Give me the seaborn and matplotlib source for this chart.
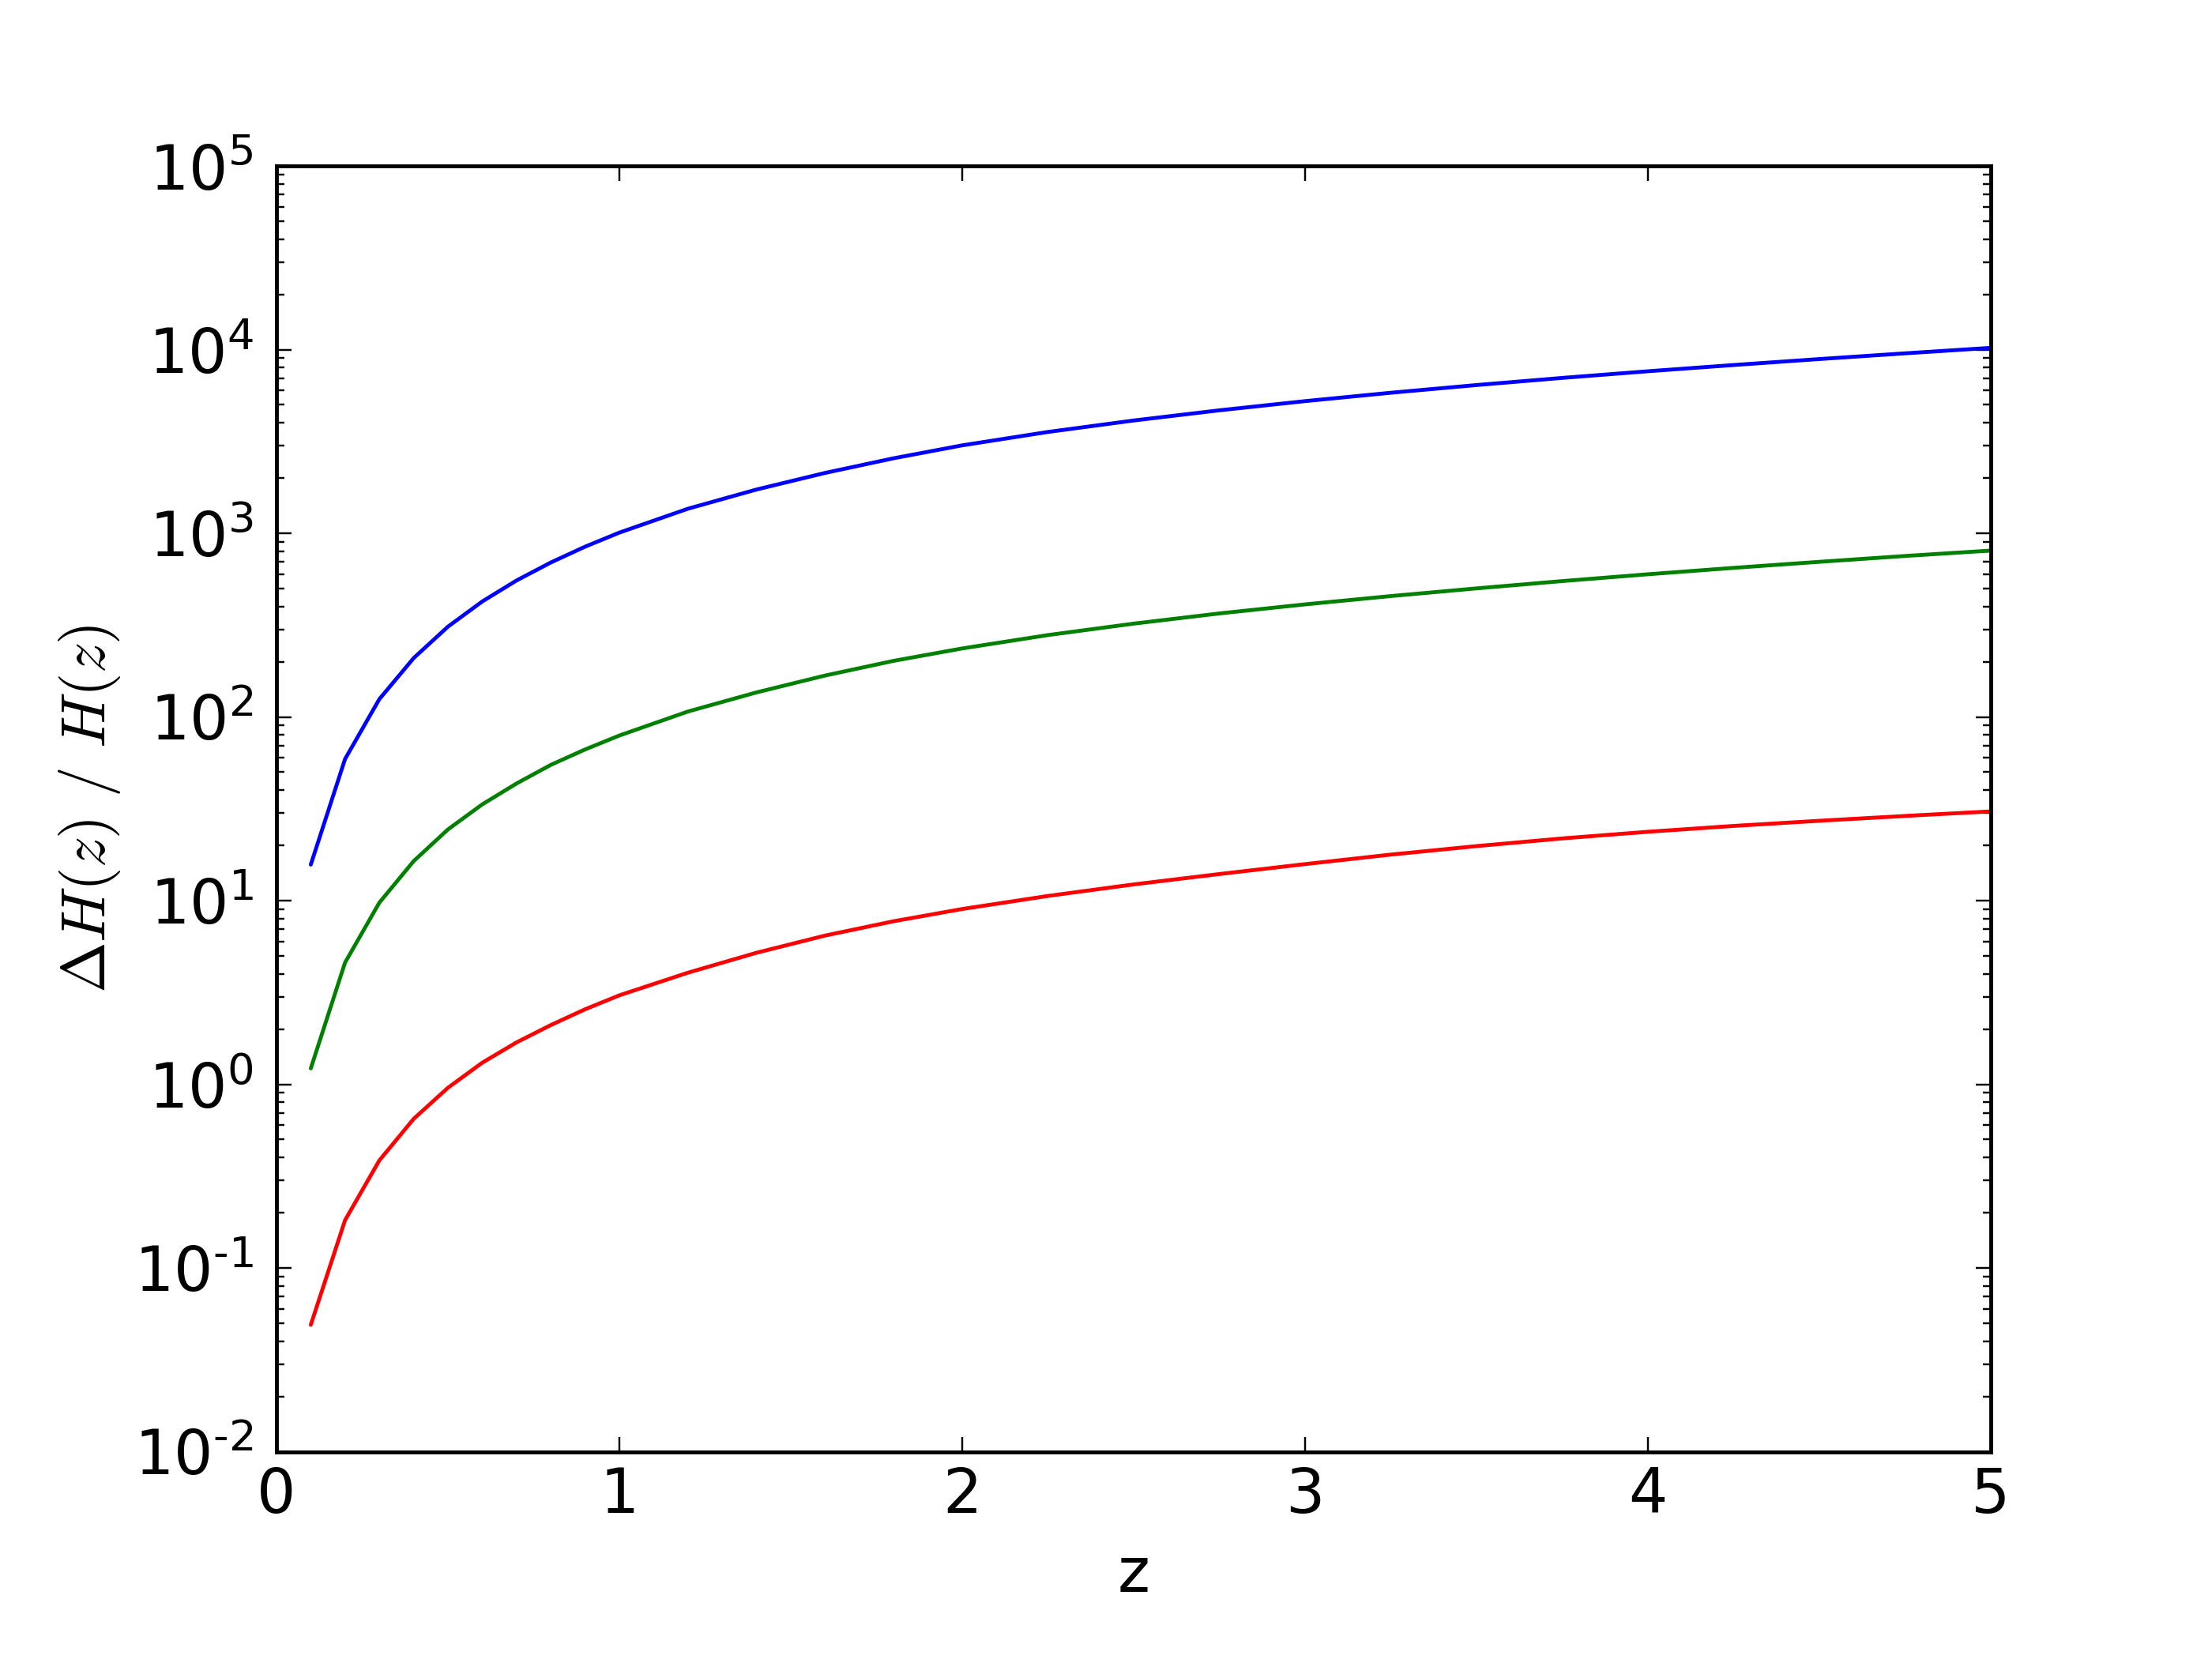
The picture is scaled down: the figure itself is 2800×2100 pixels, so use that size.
import matplotlib
matplotlib.use("Agg")
import matplotlib.pyplot as plt
import numpy as np
import pandas as pd
import seaborn as sns
from matplotlib.ticker import LogLocator, FixedLocator, FixedFormatter, NullFormatter

# ---- data ----
z_values = [0.1, 0.2, 0.3, 0.4, 0.5, 0.6, 0.7, 0.8, 0.9, 1.0,
            1.2, 1.4, 1.6, 1.8, 2.0, 2.25, 2.5, 2.75, 3.0,
            3.25, 3.5, 3.75, 4.0, 4.25, 4.5, 4.75, 5.0]

blue_values = [15.7, 59.0, 125.0, 209.0, 310.0, 425.0, 553.0, 693.0, 845.0, 1008.0,
               1360.0, 1730.0, 2130.0, 2560.0, 3010.0, 3560.0, 4110.0, 4670.0, 5240.0,
               5820.0, 6410.0, 7010.0, 7620.0, 8240.0, 8880.0, 9540.0, 10220.0]

green_values = [1.22, 4.6, 9.75, 16.4, 24.4, 33.4, 43.4, 54.8, 66.5, 79.2,
                107.0, 136.0, 168.0, 202.0, 236.0, 279.0, 322.0, 366.0, 410.0,
                455.0, 501.0, 549.0, 598.0, 648.0, 699.0, 752.0, 805.0]

red_values = [0.049, 0.182, 0.385, 0.648, 0.957, 1.31, 1.69, 2.10, 2.56, 3.05,
              4.05, 5.2, 6.45, 7.72, 9.0, 10.6, 12.25, 13.95, 15.8,
              17.8, 19.8, 21.8, 23.7, 25.5, 27.2, 28.9, 30.6]

series_names = ["blue", "green", "red"]
series_colors = ["#0000ff", "#008000", "#ff0000"]

HY = "\u2010"
ytick_values = [1e-2, 1e-1, 1e0, 1e1, 1e2, 1e3, 1e4, 1e5]
ytick_exponents = [HY + "2", HY + "1", "0", "1", "2", "3", "4", "5"]
ytick_labels = ["$\\mathdefault{10^{" + e + "}}$" for e in ytick_exponents]
xtick_values = [0, 1, 2, 3, 4, 5]
xtick_labels = ["0", "1", "2", "3", "4", "5"]

df = pd.DataFrame({
    "z": z_values * 3,
    "value": blue_values + green_values + red_values,
    "series": [series_names[0]] * len(z_values) + [series_names[1]] * len(z_values)
              + [series_names[2]] * len(z_values),
})

sns.set_style("ticks")
plt.rcParams.update({
    "font.family": ["DejaVu Sans"],
    "font.size": 16,
    "text.color": "black",
    "axes.labelcolor": "black",
    "axes.linewidth": 1.0,
    "axes.edgecolor": "black",
    "xtick.direction": "in",
    "ytick.direction": "in",
    "xtick.top": True,
    "ytick.right": True,
    "xtick.major.size": 4,
    "ytick.major.size": 4,
    "xtick.minor.size": 2,
    "ytick.minor.size": 2,
    "xtick.major.width": 0.5,
    "ytick.major.width": 0.5,
    "ytick.minor.width": 0.5,
    "xtick.major.pad": 3.5,
    "ytick.major.pad": 6,
    "xtick.color": "black",
    "ytick.color": "black",
    "xtick.labelcolor": "black",
    "ytick.labelcolor": "black",
    "axes.unicode_minus": False,
})

fig = plt.figure(figsize=(8, 6), dpi=350)
ax = fig.add_axes([0.125, 0.125, 0.775, 0.775])

sns.lineplot(data=df, x="z", y="value", hue="series", hue_order=series_names,
             palette=series_colors, estimator=None, sort=False, legend=False,
             linewidth=1.0, ax=ax)

ax.set_yscale("log")
ax.set_xlim(0, 5)
ax.set_ylim(1e-2, 1e5)

ax.yaxis.set_major_locator(FixedLocator(ytick_values))
ax.yaxis.set_major_formatter(FixedFormatter(ytick_labels))
ax.yaxis.set_minor_locator(LogLocator(base=10, subs=np.arange(2, 10), numticks=50))
ax.yaxis.set_minor_formatter(NullFormatter())
ax.xaxis.set_major_locator(FixedLocator(xtick_values))
ax.xaxis.set_major_formatter(FixedFormatter(xtick_labels))

ax.tick_params(axis="both", which="major", labelsize=16, labelcolor="black")
ax.tick_params(axis="both", which="both", top=True, right=True, direction="in")

ax.set_xlabel("z", fontsize=16, labelpad=5, color="black")
ax.set_ylabel(r"$\Delta H(z)\ /\ H(z)$", fontsize=16, math_fontfamily="cm",
              labelpad=3, color="black")

for spine in ax.spines.values():
    spine.set_visible(True)
    spine.set_linewidth(1.0)
    spine.set_color("black")

fig.savefig("out.png", dpi=350, facecolor="white")
